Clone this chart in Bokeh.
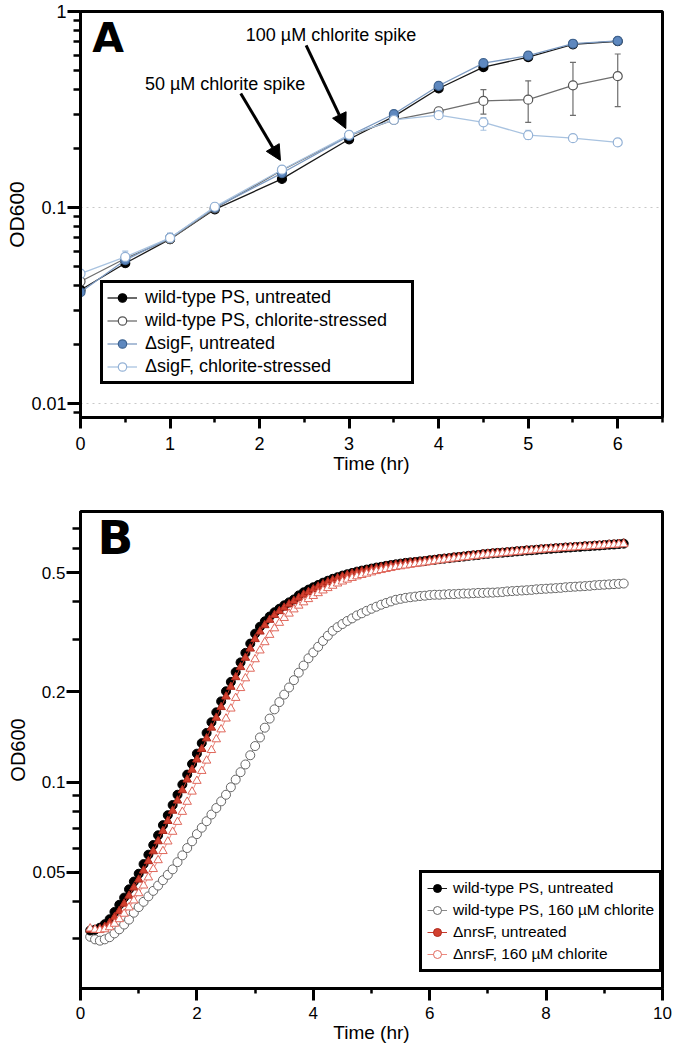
from bokeh.plotting import figure
from bokeh.models import (Range1d, FixedTicker, PrintfTickFormatter, Legend, LegendItem,
                          Label, Arrow, NormalHead, Whisker, TeeHead, ColumnDataSource)
from bokeh.layouts import column
from bokeh.embed import file_html
from bokeh.resources import INLINE

FONT = "Liberation Sans"

# ---------------- Panel A data ----------------
time_a = [0, 0.5, 1, 1.5, 2.25, 3, 3.5, 4, 4.5, 5, 5.5, 6]
wt_untr_a = [0.038, 0.052, 0.069, 0.098, 0.140, 0.223, 0.292, 0.405, 0.520, 0.585, 0.680, 0.705]
wt_untr_a_lo = [0.037, 0.051, 0.067, 0.096, 0.137, 0.219, 0.286, 0.398, 0.505, 0.565, 0.665, 0.695]
wt_untr_a_hi = [0.039, 0.053, 0.071, 0.100, 0.143, 0.227, 0.298, 0.412, 0.535, 0.605, 0.695, 0.715]
wt_str_a = [0.042, 0.055, 0.069, 0.099, 0.155, 0.233, 0.280, 0.310, 0.350, 0.355, 0.420, 0.468]
wt_str_a_lo = [0.040, 0.053, 0.066, 0.096, 0.150, 0.228, 0.272, 0.298, 0.300, 0.272, 0.295, 0.327]
wt_str_a_hi = [0.044, 0.057, 0.072, 0.102, 0.160, 0.238, 0.288, 0.322, 0.400, 0.443, 0.550, 0.607]
sig_untr_a = [0.037, 0.054, 0.070, 0.100, 0.150, 0.232, 0.300, 0.418, 0.545, 0.595, 0.685, 0.708]
sig_untr_a_lo = [0.036, 0.052, 0.067, 0.097, 0.147, 0.228, 0.294, 0.410, 0.530, 0.570, 0.670, 0.698]
sig_untr_a_hi = [0.038, 0.056, 0.073, 0.103, 0.153, 0.236, 0.306, 0.426, 0.560, 0.620, 0.700, 0.718]
sig_str_a = [0.046, 0.056, 0.070, 0.101, 0.156, 0.235, 0.280, 0.296, 0.272, 0.234, 0.226, 0.215]
sig_str_a_lo = [0.044, 0.053, 0.066, 0.097, 0.152, 0.230, 0.275, 0.290, 0.248, 0.223, 0.221, 0.208]
sig_str_a_hi = [0.048, 0.060, 0.074, 0.105, 0.160, 0.240, 0.285, 0.302, 0.288, 0.248, 0.231, 0.222]

labels_a = ["wild-type PS, untreated", "wild-type PS, chlorite-stressed",
            "\u0394sigF, untreated", "\u0394sigF, chlorite-stressed"]

# ---------------- Panel B data (5-min readings from 10 to 560 min) ----------------
time_b_min = list(range(10, 565, 5))
time_b = [m / 60.0 for m in time_b_min]

wt_untr_b = [
    0.0320, 0.0322, 0.0327, 0.0336, 0.0349, 0.0369, 0.0390, 0.0412, 0.0439, 0.0466, 0.0495, 0.0533,
    0.0573, 0.0617, 0.0665, 0.0719, 0.0776, 0.0839, 0.0908, 0.0982, 0.106, 0.115, 0.1245, 0.135,
    0.146, 0.1585, 0.171, 0.186, 0.201, 0.216, 0.233, 0.251, 0.270, 0.290, 0.313, 0.330,
    0.344, 0.357, 0.369, 0.379, 0.389, 0.398, 0.407, 0.420, 0.430, 0.439, 0.447, 0.455,
    0.463, 0.470, 0.477, 0.483, 0.489, 0.494, 0.499, 0.504, 0.508, 0.512, 0.516, 0.520,
    0.523, 0.527, 0.530, 0.533, 0.536, 0.539, 0.541, 0.543, 0.545, 0.547, 0.550, 0.552,
    0.555, 0.557, 0.559, 0.562, 0.564, 0.566, 0.569, 0.571, 0.573, 0.576, 0.578, 0.580,
    0.582, 0.583, 0.585, 0.587, 0.589, 0.591, 0.593, 0.594, 0.596, 0.598, 0.600, 0.601,
    0.603, 0.604, 0.606, 0.607, 0.609, 0.610, 0.612, 0.613, 0.615, 0.616, 0.618, 0.620,
    0.621, 0.623, 0.625]

wt_str_b = [
    0.0305, 0.0299, 0.0296, 0.0299, 0.0304, 0.0313, 0.0323, 0.0335, 0.0348, 0.0367, 0.0383, 0.0399,
    0.0416, 0.0434, 0.0452, 0.0471, 0.0491, 0.0512, 0.0541, 0.0570, 0.0603, 0.0635, 0.0671, 0.0705,
    0.0741, 0.0780, 0.0820, 0.0863, 0.0908, 0.0962, 0.102, 0.108, 0.1146, 0.123, 0.132, 0.141,
    0.152, 0.163, 0.175, 0.185, 0.196, 0.207, 0.219, 0.232, 0.245, 0.259, 0.271, 0.283,
    0.296, 0.308, 0.320, 0.329, 0.337, 0.345, 0.352, 0.360, 0.366, 0.373, 0.379, 0.385,
    0.391, 0.396, 0.401, 0.406, 0.409, 0.412, 0.414, 0.416, 0.418, 0.419, 0.421, 0.422,
    0.422, 0.423, 0.424, 0.424, 0.425, 0.426, 0.426, 0.427, 0.428, 0.428, 0.429, 0.429,
    0.430, 0.431, 0.433, 0.434, 0.435, 0.436, 0.437, 0.438, 0.440, 0.441, 0.442, 0.443,
    0.444, 0.445, 0.447, 0.448, 0.449, 0.450, 0.451, 0.452, 0.454, 0.455, 0.456, 0.457,
    0.458, 0.459, 0.460]

nrs_untr_b = [
    0.0322, 0.0322, 0.0324, 0.0329, 0.0339, 0.0354, 0.0372, 0.0393, 0.0418, 0.0445, 0.0473, 0.0507,
    0.0545, 0.0588, 0.0635, 0.0687, 0.0742, 0.0803, 0.0868, 0.0940, 0.102, 0.110, 0.119, 0.129,
    0.140, 0.152, 0.164, 0.178, 0.193, 0.208, 0.224, 0.242, 0.260, 0.279, 0.300, 0.318,
    0.334, 0.348, 0.361, 0.372, 0.382, 0.392, 0.402, 0.412, 0.422, 0.431, 0.440, 0.449,
    0.457, 0.465, 0.472, 0.479, 0.485, 0.491, 0.496, 0.501, 0.505, 0.509, 0.513, 0.517,
    0.521, 0.525, 0.528, 0.531, 0.534, 0.537, 0.540, 0.542, 0.544, 0.547, 0.549, 0.552,
    0.555, 0.557, 0.559, 0.562, 0.564, 0.566, 0.569, 0.571, 0.573, 0.576, 0.578, 0.580,
    0.582, 0.583, 0.585, 0.587, 0.589, 0.591, 0.593, 0.594, 0.596, 0.598, 0.600, 0.601,
    0.603, 0.604, 0.606, 0.607, 0.609, 0.610, 0.612, 0.613, 0.615, 0.616, 0.618, 0.620,
    0.621, 0.623, 0.625]

nrs_str_b = [
    0.0325, 0.0322, 0.0321, 0.0323, 0.0328, 0.0337, 0.0349, 0.0364, 0.0382, 0.0403, 0.0426, 0.0452,
    0.0481, 0.0513, 0.0549, 0.0589, 0.0634, 0.0683, 0.0737, 0.0796, 0.0860, 0.0930, 0.101, 0.109,
    0.118, 0.128, 0.139, 0.150, 0.163, 0.176, 0.191, 0.206, 0.222, 0.239, 0.257, 0.275,
    0.293, 0.310, 0.326, 0.340, 0.353, 0.365, 0.377, 0.388, 0.398, 0.408, 0.418, 0.427,
    0.436, 0.444, 0.452, 0.460, 0.467, 0.474, 0.480, 0.486, 0.491, 0.496, 0.501, 0.506,
    0.510, 0.514, 0.518, 0.522, 0.525, 0.528, 0.531, 0.534, 0.537, 0.540, 0.543, 0.546,
    0.549, 0.552, 0.554, 0.557, 0.559, 0.562, 0.564, 0.567, 0.569, 0.572, 0.574, 0.576,
    0.578, 0.580, 0.582, 0.584, 0.586, 0.588, 0.590, 0.592, 0.594, 0.596, 0.598, 0.599,
    0.601, 0.603, 0.604, 0.606, 0.607, 0.609, 0.610, 0.612, 0.613, 0.615, 0.616, 0.618,
    0.619, 0.621, 0.622]

labels_b = ["wild-type PS, untreated", "wild-type PS, 160 \u00b5M chlorite",
            "\u0394nrsF, untreated", "\u0394nrsF, 160 \u00b5M chlorite"]


def style_axes(p, xt, xminor, yt, yminor, tick_size, xlab_size, ylab_size):
    xtk = FixedTicker(ticks=xt, minor_ticks=xminor)
    ytk = FixedTicker(ticks=yt, minor_ticks=yminor)
    p.xaxis.ticker = xtk
    p.yaxis.ticker = ytk
    p.xgrid.ticker = xtk
    p.ygrid.ticker = ytk
    p.yaxis.formatter = PrintfTickFormatter(format="%g")
    for ax in (p.xaxis[0], p.yaxis[0]):
        ax.axis_line_width = 3
        ax.axis_line_color = "black"
        ax.major_tick_line_width = 3
        ax.minor_tick_line_width = 2.5
        ax.major_tick_line_color = "black"
        ax.minor_tick_line_color = "black"
        ax.major_tick_in = 0
        ax.minor_tick_in = 0
        ax.major_label_text_font = FONT
        ax.major_label_text_font_size = tick_size
        ax.major_label_text_color = "black"
        ax.axis_label_text_font = FONT
        ax.axis_label_text_font_style = "normal"
        ax.axis_label_text_color = "black"
    p.xaxis.major_tick_out = 11
    p.xaxis.minor_tick_out = 5
    p.yaxis.major_tick_out = 13
    p.yaxis.minor_tick_out = 7
    p.xaxis.major_label_standoff = 8
    p.yaxis.major_label_standoff = 1
    p.xaxis.axis_label_standoff = 0
    p.yaxis.axis_label_standoff = 0
    p.xaxis.axis_label_text_font_size = xlab_size
    p.yaxis.axis_label_text_font_size = ylab_size
    p.outline_line_color = "black"
    p.outline_line_width = 3
    p.outline_line_alpha = 1.0
    p.xgrid.visible = False


# ================= Panel A =================
pA = figure(width=672, height=477, x_range=Range1d(0, 6.5), y_range=Range1d(0.0085, 1.0),
            y_axis_type="log", output_backend="svg", toolbar_location=None,
            min_border_left=80, min_border_right=4, min_border_top=11, min_border_bottom=60,
            x_axis_label="Time (hr)", y_axis_label="OD600")
style_axes(pA, [0, 1, 2, 3, 4, 5, 6], [0.5, 1.5, 2.5, 3.5, 4.5, 5.5, 6.5],
           [0.01, 0.1, 1],
           [0.009, 0.02, 0.03, 0.04, 0.05, 0.06, 0.07, 0.08, 0.09,
            0.2, 0.3, 0.4, 0.5, 0.6, 0.7, 0.8, 0.9],
           "18px", "19px", "21px")
pA.ygrid.grid_line_color = "#c8c8c8"
pA.ygrid.grid_line_dash = "dotted"
pA.ygrid.grid_line_width = 1

series_a = [
    (wt_untr_a, wt_untr_a_lo, wt_untr_a_hi, "#1a1a1a", "black", "black"),
    (wt_str_a, wt_str_a_lo, wt_str_a_hi, "#6e6e6e", "#555555", "white"),
    (sig_untr_a, sig_untr_a_lo, sig_untr_a_hi, "#7d9bc2", "#3f6491", "#5e88bf"),
    (sig_str_a, sig_str_a_lo, sig_str_a_hi, "#a9c3e0", "#94b2d6", "white"),
]
items_a = []
for (vals, lo, hi, lcol, mline, mfill), lab in zip(series_a, labels_a):
    src = ColumnDataSource(dict(x=time_a, y=vals, lo=lo, hi=hi))
    pA.add_layout(Whisker(source=src, base="x", lower="lo", upper="hi", line_color=lcol,
                          line_width=1.2,
                          upper_head=TeeHead(size=6, line_color=lcol, line_width=1.2),
                          lower_head=TeeHead(size=6, line_color=lcol, line_width=1.2)))
    lr = pA.line("x", "y", source=src, line_color=lcol, line_width=1.3)
    sr = pA.scatter("x", "y", source=src, marker="circle", size=9, line_color=mline,
                    fill_color=mfill, line_width=1.2)
    items_a.append(LegendItem(label=lab, renderers=[lr, sr]))

legA = Legend(items=items_a, location=(20, 33), label_text_font=FONT,
              label_text_font_size="18px", label_text_color="black",
              border_line_color="black", border_line_width=3, border_line_alpha=1.0,
              background_fill_color="white", background_fill_alpha=1.0,
              padding=4, spacing=2, margin=0, glyph_width=30, glyph_height=21,
              label_height=21, label_width=262, label_standoff=8)
pA.add_layout(legA)

pA.add_layout(Label(x=0.13, y=0.733, text="A", text_font="DejaVu Sans", text_font_style="bold",
                    text_font_size="41px", text_color="black", text_baseline="middle"))
pA.add_layout(Label(x=1.846, y=0.763, text="100 \u00b5M chlorite spike", text_font=FONT,
                    text_font_size="18px", text_color="black", text_baseline="middle"))
pA.add_layout(Label(x=0.719, y=0.427, text="50 \u00b5M chlorite spike", text_font=FONT,
                    text_font_size="18px", text_color="black", text_baseline="middle"))
pA.add_layout(Arrow(x_start=1.79, y_start=0.382, x_end=2.233, y_end=0.174, line_width=3,
                    line_color="black",
                    end=NormalHead(size=15, fill_color="black", line_color="black", line_width=1)))
pA.add_layout(Arrow(x_start=2.52, y_start=0.671, x_end=2.963, y_end=0.253, line_width=3,
                    line_color="black",
                    end=NormalHead(size=15, fill_color="black", line_color="black", line_width=1)))

# ================= Panel B =================
pB = figure(width=672, height=571, x_range=Range1d(0, 10), y_range=Range1d(0.0205, 0.8),
            y_axis_type="log", output_backend="svg", toolbar_location=None,
            min_border_left=80, min_border_right=10, min_border_top=34, min_border_bottom=60,
            x_axis_label="Time (hr)", y_axis_label="OD600")
style_axes(pB, [0, 2, 4, 6, 8, 10], [1, 3, 5, 7, 9],
           [0.05, 0.1, 0.2, 0.5],
           [0.03, 0.04, 0.06, 0.07, 0.08, 0.09, 0.3, 0.4, 0.6, 0.7],
           "17px", "19px", "20px")
pB.ygrid.visible = False
pB.yaxis.major_tick_out = 14
pB.yaxis.minor_tick_out = 8
pB.xaxis.major_tick_out = 12
pB.xaxis.major_label_standoff = 6

series_b = [
    (wt_str_b, "#8a8a8a", "#666666", "white", "circle", 9),
    (wt_untr_b, "#1a1a1a", "black", "black", "circle", 9),
    (nrs_untr_b, "#c63a2d", "#b0281c", "#d2402f", "triangle", 8.5),
    (nrs_str_b, "#ec8a80", "#e0685c", "white", "triangle", 8.5),
]
rend_b = []
for vals, lcol, mline, mfill, mk, sz in series_b:
    src = ColumnDataSource(dict(x=time_b, y=vals))
    lr = pB.line("x", "y", source=src, line_color=lcol, line_width=1)
    sr = pB.scatter("x", "y", source=src, marker=mk, size=sz, line_color=mline,
                    fill_color=mfill, line_width=1)
    # circle symbol used only for the legend entry (hidden in the plot area)
    gr = pB.scatter("x", "y", source=src, marker="circle", size=8, line_color=mline,
                    fill_color=mfill, line_width=1, visible=False)
    rend_b.append((lr, gr))

order_b = [1, 0, 2, 3]
items_b = [LegendItem(label=labels_b[i], renderers=list(rend_b[j]))
           for i, j in enumerate(order_b)]
legB = Legend(items=items_b, location=(339, 16), label_text_font=FONT,
              label_text_font_size="15.5px", label_text_color="black",
              border_line_color="black", border_line_width=3, border_line_alpha=1.0,
              background_fill_color="white", background_fill_alpha=1.0,
              inactive_fill_alpha=0.0,
              padding=5, spacing=2, margin=0, glyph_width=20, glyph_height=20,
              label_height=20, label_standoff=6)
pB.add_layout(legB)

pB.add_layout(Label(x=0.29, y=0.653, text="B", text_font="DejaVu Sans", text_font_style="bold",
                    text_font_size="47px", text_color="black", text_baseline="middle"))

layout = column(pA, pB, spacing=0)
open("out.html", "w").write(file_html(layout, INLINE))
